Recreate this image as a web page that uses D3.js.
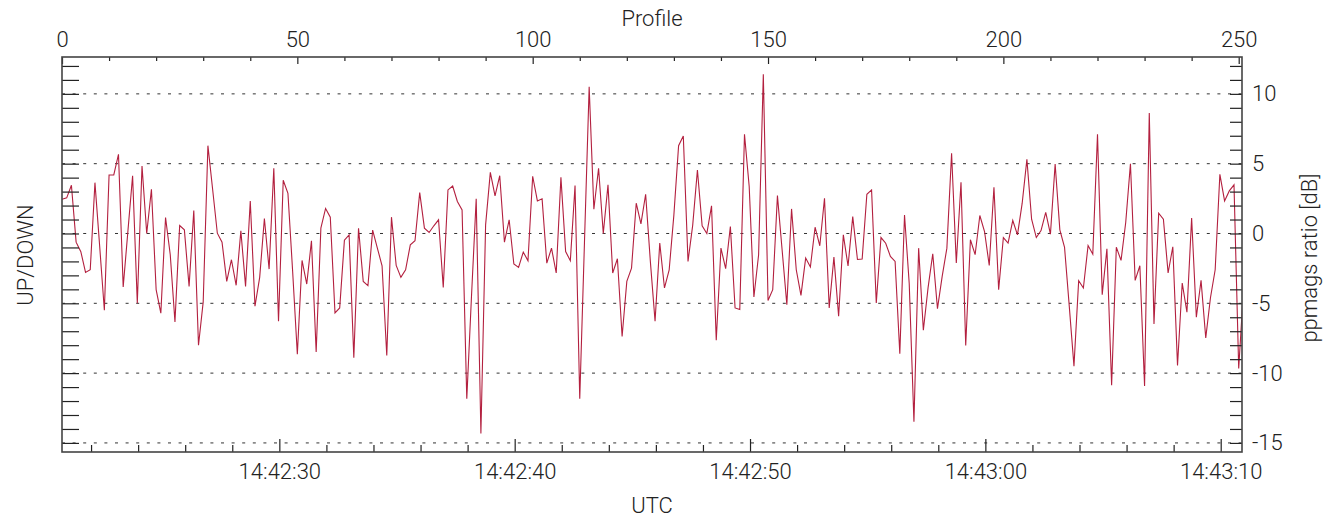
<!DOCTYPE html>
<html>
<head>
<meta charset="utf-8">
<script src="https://cdn.jsdelivr.net/npm/d3@7"></script>
<style>
  html, body { margin: 0; padding: 0; background: #fff; }
  svg text { font-family: Roboto, "Open Sans", sans-serif; font-weight: 300; fill: #222; }
</style>
</head>
<body>
<svg id="chart" width="1335" height="520"></svg>
<script>
// UP/DOWN power ratio per profile, in dB
const profileValues = [
  2.45, 2.55, 3.45, -0.62, -1.3, -2.79, -2.6, 3.64, -0.9, -5.5,
  4.19, 4.19, 5.67, -3.83, 0.15, 4.14, -5.0, 4.83, 0.0, 3.17,
  -4.02, -5.71, 1.14, -1.52, -6.33, 0.57, 0.26, -3.79, 1.64, -8.0,
  -4.9, 6.29, 3.17, 0.02, -0.62, -3.43, -1.88, -3.71, 0.19, -3.79,
  2.33, -5.21, -3.14, 1.07, -2.55, 4.67, -6.29, 3.81, 2.88, -2.7,
  -8.65, -1.93, -3.62, -0.52, -8.48, 0.38, 1.79, 1.17, -5.69, -5.33,
  -0.48, -0.1, -8.9, 0.38, -3.43, -3.74, 0.24, -1.05, -2.31, -8.74,
  1.17, -2.29, -3.14, -2.6, -0.81, -0.52, 2.93, 0.38, 0.07, 0.55,
  0.98, -3.86, 3.12, 3.4, 2.29, 1.69, -11.83, -4.5, 2.48, -14.33,
  0.62, 4.38, 2.69, 4.14, -0.62, 0.98, -2.19, -2.43, -1.33, -1.95,
  4.1, 2.33, 2.48, -2.12, -1.05, -2.83, 4.02, -1.29, -1.95, 3.43,
  -11.83, -0.67, 10.5, 1.74, 4.67, 0.0, 3.48, -2.83, -1.81, -7.38,
  -3.43, -2.48, 2.17, 0.69, 2.81, -2.0, -6.29, -0.69, -3.9, -2.6,
  1.33, 6.29, 6.98, -2.0, 0.6, 4.55, 0.55, 0.0, 1.98, -7.64,
  -1.05, -2.52, 0.5, -5.33, -5.45, 7.1, 3.36, -4.55, -1.52, 11.4,
  -4.8, -4.02, 2.71, -1.2, -5.1, 1.76, -2.6, -4.43, -1.76, -2.4,
  0.45, -0.88, 2.52, -5.33, -1.69, -5.93, -0.1, -2.33, 1.21, -1.86,
  -1.83, 2.81, 3.12, -4.98, -0.29, -0.7, -1.64, -2.0, -8.62, 1.33,
  -3.6, -13.48, -1.05, -6.93, -3.9, -1.45, -5.38, -3.07, -1.05, 5.74,
  -2.12, 3.67, -8.02, -0.45, -1.52, 1.29, 0.14, -2.29, 3.31, -4.02,
  -0.29, -0.69, 0.93, -0.1, 2.17, 5.31, 1.02, -0.29, 0.21, 1.52,
  -0.05, 4.98, 0.26, -1.0, -5.2, -9.5, -3.38, -3.9, -0.86, -1.48,
  7.1, -4.38, -1.1, -10.86, -0.98, -1.93, 0.8, 5.0, -3.36, -2.31,
  -10.93, 8.62, -6.48, 1.45, 1.02, -2.83, -0.95, -9.45, -3.55, -5.64,
  1.1, -6.0, -3.36, -7.48, -4.6, -2.6, 4.24, 2.33, 3.05, 3.48,
  -9.67, -4.1
];

const profileTicks = [0, 50, 100, 150, 200, 250];
const ratioTicks = [-15, -10, -5, 0, 5, 10];
const utcTickLabels = ["14:42:30", "14:42:40", "14:42:50", "14:43:00", "14:43:10"];
const startTime = "14:42:20.765";
const secondsPerProfile = 0.2;
const profileRange = [0, 250.7];
const ratioRange = [-15.65, 12.64];

const W = 1335, H = 520;
const plot = { left: 62, right: 1242, top: 57, bottom: 452 };

const svg = d3.select("#chart");

const x = d3.scaleLinear().domain(profileRange).range([plot.left, plot.right]);
const y = d3.scaleLinear().domain(ratioRange).range([plot.bottom, plot.top]);

const parseTime = d3.utcParse("%H:%M:%S.%L");
const parseTick = d3.utcParse("%H:%M:%S");
const t0 = parseTime(startTime);
const tEnd = new Date(t0.getTime() + profileRange[1] * secondsPerProfile * 1000);
const t = d3.scaleUtc().domain([t0, tEnd]).range([plot.left, plot.right]);

svg.append("defs").append("clipPath").attr("id", "plotClip")
  .append("rect")
  .attr("x", plot.left).attr("y", plot.top)
  .attr("width", plot.right - plot.left).attr("height", plot.bottom - plot.top);

// dotted reference lines every 5 dB
svg.append("g").selectAll("line").data(ratioTicks).join("line")
  .attr("x1", plot.left).attr("x2", plot.right)
  .attr("y1", d => y(d)).attr("y2", d => y(d))
  .attr("stroke", "#333").attr("stroke-width", 1)
  .attr("stroke-dasharray", "3,7.6");

// ratio trace
const line = d3.line().x((d, i) => x(i)).y(d => y(d));
svg.append("path").datum(profileValues)
  .attr("clip-path", "url(#plotClip)")
  .attr("d", line)
  .attr("fill", "none")
  .attr("stroke", "#b3203f")
  .attr("stroke-width", 1.1)
  .attr("stroke-linejoin", "miter");

function styleAxis(g) {
  g.select(".domain").remove();
  g.selectAll(".tick line").attr("stroke", "#222").attr("stroke-width", 1.2);
  g.selectAll(".tick text").attr("font-size", 22).attr("fill", "#222")
    .attr("font-family", null);
}

const oneDb = d3.range(-15, 13, 1);

// left axis: unlabeled 1 dB ticks pointing inward
svg.append("g").attr("transform", `translate(${plot.left},0)`)
  .call(d3.axisLeft(y).tickValues(oneDb).tickSize(-17).tickFormat(""))
  .call(styleAxis);

// right axis: 1 dB ticks, labels every 5 dB
svg.append("g").attr("transform", `translate(${plot.right},0)`)
  .call(d3.axisRight(y).tickValues(oneDb).tickSize(-12).tickPadding(10)
    .tickFormat(d => ratioTicks.includes(d) ? String(d) : ""))
  .call(styleAxis);

// top axis: profile number
const profileMinor = d3.range(0, 251, 10).filter(d => !profileTicks.includes(d));
svg.append("g").attr("transform", `translate(0,${plot.top})`)
  .call(d3.axisTop(x).tickValues(profileMinor).tickSize(-4).tickFormat(""))
  .call(styleAxis);
svg.append("g").attr("transform", `translate(0,${plot.top})`)
  .call(d3.axisTop(x).tickValues(profileTicks).tickSize(-7).tickPadding(10).tickFormat(d3.format("d")))
  .call(styleAxis);

// bottom axis: UTC time
const majorTimes = utcTickLabels.map(parseTick);
const minorTimes = d3.utcSecond.every(2).range(t0, tEnd)
  .filter(d => d.getUTCSeconds() % 10 !== 0);
svg.append("g").attr("transform", `translate(0,${plot.bottom})`)
  .call(d3.axisBottom(t).tickValues(minorTimes).tickSize(-7).tickFormat(""))
  .call(styleAxis);
svg.append("g").attr("transform", `translate(0,${plot.bottom})`)
  .call(d3.axisBottom(t).tickValues(majorTimes).tickSize(-13).tickPadding(11)
    .tickFormat(d3.utcFormat("%H:%M:%S")))
  .call(styleAxis);

// plot frame
svg.append("rect")
  .attr("x", plot.left).attr("y", plot.top)
  .attr("width", plot.right - plot.left).attr("height", plot.bottom - plot.top)
  .attr("fill", "none").attr("stroke", "#444").attr("stroke-width", 1.6);

// axis titles
svg.append("text").attr("x", 652).attr("y", 26).attr("text-anchor", "middle")
  .attr("font-size", 22).text("Profile");
svg.append("text").attr("x", 652).attr("y", 513).attr("text-anchor", "middle")
  .attr("font-size", 22).text("UTC");
svg.append("text").attr("transform", "translate(33,255) rotate(-90)")
  .attr("text-anchor", "middle").attr("font-size", 22).text("UP/DOWN");
svg.append("text").attr("transform", "translate(1317,258) rotate(-90)")
  .attr("text-anchor", "middle").attr("font-size", 22).text("ppmags ratio [dB]");
</script>
</body>
</html>
